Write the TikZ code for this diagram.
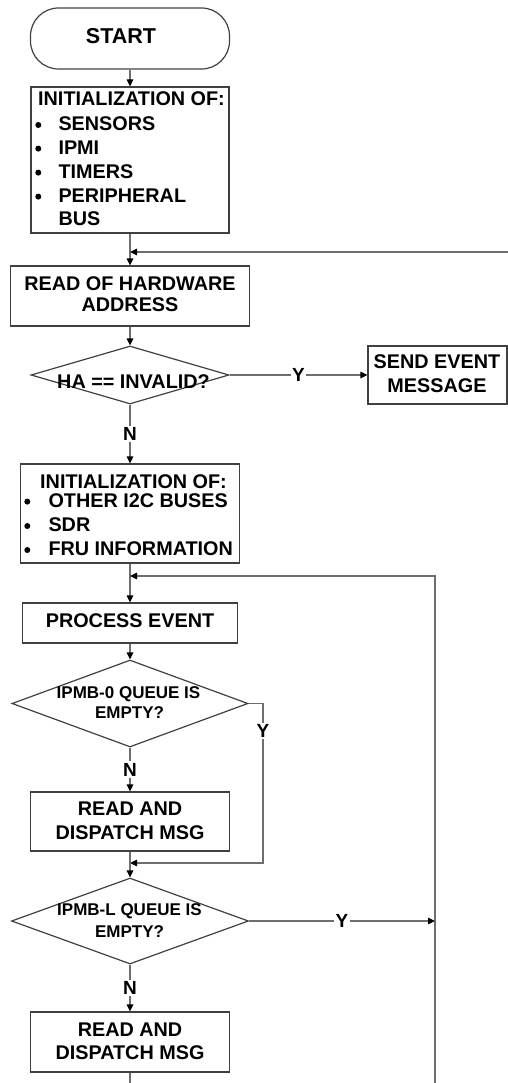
\documentclass[tikz,border=0pt]{standalone}
\usepackage{fontspec}
\setmainfont{Liberation Sans}
\usetikzlibrary{shapes.geometric,arrows.meta}
\definecolor{boxline}{RGB}{64,64,64}
\definecolor{flowline}{RGB}{110,110,110}
\tikzset{
  box/.style={draw=boxline, line width=1.2pt, rectangle, inner sep=0pt},
  term/.style={box, rounded corners=28pt, minimum width=199pt, minimum height=61pt},
  decision/.style={draw=boxline, line width=1.2pt, diamond, inner sep=0pt},
  txt/.style={font=\fontsize{19.8}{24}\selectfont\bfseries, inner sep=0pt, anchor=base},
  txtl/.style={txt, anchor=base west},
  dtxt/.style={font=\fontsize{17}{20}\selectfont\bfseries, inner sep=0pt, anchor=base},
  dot/.style={circle, fill=black, inner sep=0pt, minimum size=6pt},
  flow/.style={draw=flowline, line width=1.2pt},
  arr/.style={flow, -{Triangle[length=7pt,width=6.5pt,color=black]}},
  lab/.style={fill=white, inner sep=1.5pt, font=\fontsize{19}{19}\selectfont\bfseries}
}
\begin{document}
\begin{tikzpicture}[x=1pt,y=-1pt]
\useasboundingbox (0,0) rectangle (508,1083);

% start terminator
\node[term] (start) at (130,38.5) {};
\node[txt, font=\fontsize{21.5}{24}\selectfont\bfseries] (startl) at (121,43.3) {START};

% first initialisation block
\node[box, minimum width=198pt, minimum height=146pt] (init1) at (130,160) {};
\node[txt] (i1t) at (131.5,106) {INITIALIZATION OF:};
\foreach \y/\s [count=\k] in {130.7/SENSORS, 154.3/IPMI, 178.3/TIMERS, 202.3/PERIPHERAL}{
  \node[dot] (i1b\k) at (38.3,\y-5.7) {};
  \node[txtl] (i1s\k) at (58.3,\y) {\s};
}
\node[txtl] (i1s5) at (58.3,225.7) {BUS};

% hardware address
\node[box, minimum width=239pt, minimum height=60pt] (readhw) at (130,296) {};
\node[txt] (rh1) at (130,290) {READ OF HARDWARE};
\node[txt] (rh2) at (130,311.7) {ADDRESS};

\node[decision, minimum width=198pt, minimum height=58pt] (ha) at (130,375) {};
\node[txt] (hat) at (133.5,388) {HA == INVALID?};

\node[box, minimum width=139pt, minimum height=58pt] (send) at (437.5,375) {};
\node[txt] (se1) at (437,368) {SEND EVENT};
\node[txt] (se2) at (437,392.7) {MESSAGE};

% second initialisation block
\node[box, minimum width=219pt, minimum height=99pt] (init2) at (130,513.5) {};
\node[txt] (i2t) at (133.5,488) {INITIALIZATION OF:};
\foreach \y/\s [count=\k] in {507.3/OTHER I2C BUSES, 531.7/SDR, 555.7/FRU INFORMATION}{
  \node[dot] (i2b\k) at (27.3,\y-5.7) {};
  \node[txtl] (i2s\k) at (48.3,\y) {\s};
}

% event loop
\node[box, minimum width=215pt, minimum height=40pt] (process) at (130,623) {};
\node[txt] (pet) at (130,627) {PROCESS EVENT};

\node[decision, minimum width=236pt, minimum height=87pt] (d2) at (130,703.5) {};
\node[dtxt] (d2a) at (128.5,698.3) {IPMB-0 QUEUE IS};
\node[dtxt] (d2b) at (129.5,718.3) {EMPTY?};

\node[box, minimum width=199pt, minimum height=59pt] (read1) at (130,821.5) {};
\node[txt] (r1a) at (130,815) {READ AND};
\node[txt] (r1b) at (130,839) {DISPATCH MSG};

\node[decision, minimum width=237pt, minimum height=86pt] (d3) at (130,921) {};
\node[dtxt] (d3a) at (129.5,915.7) {IPMB-L QUEUE IS};
\node[dtxt] (d3b) at (129.5,937) {EMPTY?};

\node[box, minimum width=199pt, minimum height=60pt] (read2) at (130,1042) {};
\node[txt] (r2a) at (130,1036) {READ AND};
\node[txt] (r2b) at (130,1059) {DISPATCH MSG};

% junction and edge points
\coordinate (fbin) at (508,252);
\coordinate (join1) at (130,252);
\coordinate (sendout) at (508,375);
\coordinate (loopB) at (435,1083);
\coordinate (loopR) at (435,576);
\coordinate (join2) at (130,576);
\coordinate (y0a) at (263,703.5);
\coordinate (y0b) at (263,863);
\coordinate (join3) at (130,863);
\coordinate (r2out) at (130,1083);

% connectors
\draw[arr] (start.south) -- (init1.north);
\draw[arr] (init1.south) -- (readhw.north);
\draw[arr] (fbin) -- (join1);
\draw[arr] (readhw.south) -- (ha.north);
\draw[arr] (ha.east) -- node[lab] (hay) {Y} (send.west);
\draw[flow] (send.east) -- (sendout);
\draw[arr] (ha.south) -- node[lab] (han) {N} (init2.north);
\draw[arr] (init2.south) -- (process.north);
\draw[arr] (loopB) -- (loopR) -- (join2);
\draw[arr] (process.south) -- (d2.north);
\draw[arr] (d2.east) -- (y0a) -- node[lab, pos=0.17] (d2y) {Y} (y0b) -- (join3);
\draw[arr] (d2.south) -- node[lab] (d2n) {N} (read1.north);
\draw[arr] (read1.south) -- (d3.north);
\draw[arr] (d3.east) -- node[lab] (d3y) {Y} (d3.east -| loopR);
\draw[arr] (d3.south) -- node[lab] (d3n) {N} (read2.north);
\draw[flow] (read2.south) -- (r2out);
\end{tikzpicture}
\end{document}
